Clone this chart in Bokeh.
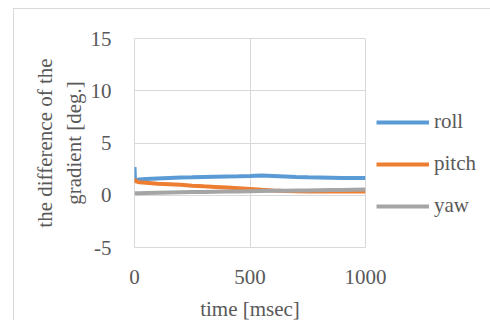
from bokeh.plotting import figure
from bokeh.models import Range1d, FixedTicker, Legend, LegendItem, ColumnDataSource, PrintfTickFormatter
from bokeh.embed import file_html
from bokeh.resources import INLINE

# data
time_ms = [0, 2, 5, 10, 20, 50, 100, 150, 200, 250, 300, 350, 400, 450, 500, 550, 600,
           650, 700, 750, 800, 850, 900, 950, 1000]
roll = [2.7, 1.6, 1.5, 1.45, 1.5, 1.55, 1.6, 1.65, 1.7, 1.72, 1.75, 1.78, 1.8, 1.82, 1.85, 1.9, 1.85,
        1.8, 1.75, 1.72, 1.7, 1.68, 1.66, 1.65, 1.65]
pitch = [1.6, 1.4, 1.35, 1.3, 1.25, 1.2, 1.1, 1.05, 1.0, 0.92, 0.85, 0.8, 0.75, 0.68, 0.6, 0.52, 0.45,
         0.4, 0.38, 0.36, 0.35, 0.35, 0.35, 0.35, 0.35]
yaw = [0.2, 0.2, 0.2, 0.2, 0.2, 0.22, 0.24, 0.26, 0.28, 0.3, 0.31, 0.33, 0.35, 0.36, 0.38, 0.4, 0.42,
       0.43, 0.45, 0.46, 0.48, 0.5, 0.51, 0.53, 0.55]
x_ticks = [0, 500, 1000]
y_ticks = [-5, 0, 5, 10, 15]

FONT = "Liberation Serif"
TXT = "#595959"
GRID = "#D9D9D9"
FS = "21px"

# figure placed at page (13, 8) via CSS margin; frame at page x 133..364, y 37..246
p = figure(frame_width=231, frame_height=209, output_backend="svg", toolbar_location=None,
           x_range=Range1d(0, 1000), y_range=Range1d(-5, 15),
           min_border_left=120, min_border_right=125, min_border_top=29, min_border_bottom=72,
           styles={"margin-left": "13px", "margin-top": "8px",
                   "border-left": f"1px solid {GRID}", "border-top": f"1px solid {GRID}",
                   "border-bottom": f"1px solid {GRID}"})
p.outline_line_color = GRID
p.xaxis.ticker = FixedTicker(ticks=x_ticks)
p.yaxis.ticker = FixedTicker(ticks=y_ticks)
p.yaxis.formatter = PrintfTickFormatter(format="%d")
for ax in (p.xaxis, p.yaxis):
    ax.axis_line_color = None
    ax.major_tick_line_color = None
    ax.minor_tick_line_color = None
    ax.major_label_text_font = FONT
    ax.major_label_text_font_size = FS
    ax.major_label_text_color = TXT
    ax.axis_label_text_font = FONT
    ax.axis_label_text_font_size = FS
    ax.axis_label_text_color = TXT
    ax.axis_label_text_font_style = "normal"
p.xaxis.major_label_standoff = 16
p.yaxis.major_label_standoff = 17
p.xaxis.axis_label = "time [msec]"
p.xaxis.axis_label_standoff = 10
p.yaxis.axis_label = "the difference of the\ngradient [deg.]"
p.yaxis.axis_label_standoff = 2
p.yaxis.axis_label_text_line_height = 1.2
p.xgrid.grid_line_color = GRID
p.ygrid.grid_line_color = GRID

src = ColumnDataSource(dict(t=time_ms, roll=roll, pitch=pitch, yaw=yaw))
r1 = p.line("t", "roll", source=src, line_color="#5B9BD5", line_width=4)
r2 = p.line("t", "pitch", source=src, line_color="#ED7D31", line_width=4)
r3 = p.line("t", "yaw", source=src, line_color="#A5A5A5", line_width=4)

# legend in the right-hand panel; blank title pushes items down
legend = Legend(items=[LegendItem(label="roll", renderers=[r1]),
                       LegendItem(label="pitch", renderers=[r2]),
                       LegendItem(label="yaw", renderers=[r3])],
                location="top_left", title=" ", title_text_font_size="14px", title_standoff=44,
                background_fill_alpha=0, border_line_color=None,
                padding=0, margin=11, glyph_width=53, glyph_height=20, label_height=20,
                spacing=17, label_standoff=5, label_text_font=FONT,
                label_text_font_size=FS, label_text_color=TXT)
p.add_layout(legend, "right")

open("out.html", "w").write(file_html(p, INLINE))
